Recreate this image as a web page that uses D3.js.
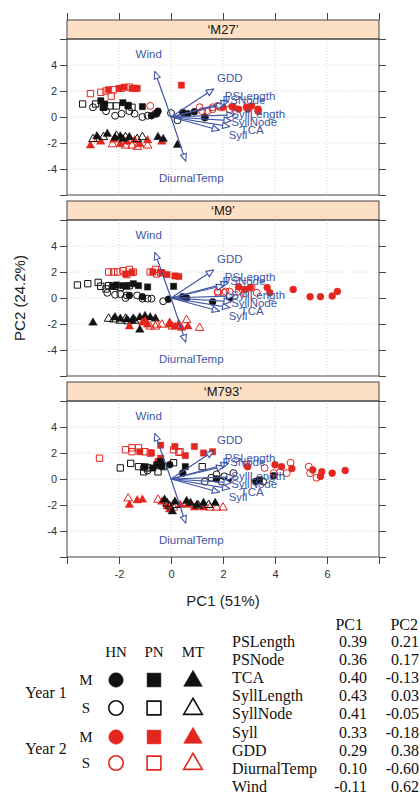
<!DOCTYPE html>
<html lang="en">
<head>
  <meta charset="UTF-8">
  <title>PCA biplot by cultivar</title>
  <script src="https://d3js.org/d3.v7.min.js"></script>
  <style>
    body { margin: 0; background: #fff; }
    svg text { font-family: "Liberation Sans", Arial, sans-serif; }
    .serif { font-family: "Liberation Serif", "Times New Roman", serif !important; }
  </style>
</head>
<body>
<svg id="chart" width="420" height="795"></svg>

<script>
    // ——— data ———
    const panelNames = ["‘M27’", "‘M9’", "‘M793’"];
    const xTicks = [-4, -2, 0, 2, 4, 6, 8];
    const yTicks = [-6, -4, -2, 0, 2, 4, 6];
    const xTickLabels = ["-2", "0", "2", "4", "6"];
    const yTickLabels = ["-4", "-2", "0", "2", "4"];

    const varNames = ["PSLength", "PSNode", "TCA", "SyllLength", "SyllNode", "Syll", "GDD", "DiurnalTemp", "Wind"];
    const pc1Load = [0.39, 0.36, 0.40, 0.43, 0.41, 0.33, 0.29, 0.10, -0.11];
    const pc2Load = [0.21, 0.17, -0.13, 0.03, -0.05, -0.18, 0.38, -0.60, 0.62];

    // [year, form, site, points]
    const m27Points = [
      [2, "S", "PN", [[-3.1,1.8],[-2.7,1.9],[-2.5,2.0],[-2.2,2.1],[-1.9,2.2],[-1.6,2.3],[-1.4,2.2],[-2.3,1.6]]],
      [2, "M", "PN", [[-2.4,2.1],[-2.0,2.2],[-1.8,2.3],[-1.5,2.2],[-1.3,2.2],[0.4,2.45]]],
      [1, "S", "PN", [[-3.4,1.0],[-2.9,1.0],[-2.6,0.75],[-2.35,0.85],[-2.1,0.85],[-1.5,0.75]]],
      [1, "M", "PN", [[-2.7,1.25],[-2.55,1.0],[-1.85,1.1],[-1.65,0.85],[-1.1,0.8],[-2.6,0.75],[-1.65,0.9]]],
      [1, "S", "HN", [[-2.15,0.1],[-1.9,0.25],[-1.4,0.25],[-1.1,0.0],[-0.6,0.25],[-0.9,0.1],[-3.0,0.75],[-2.5,0.45],[0.0,0.3],[0.25,-0.25],[-1.6,0.45]]],
      [1, "M", "HN", [[-0.5,0.45],[-0.75,0.1],[0.45,0.35],[0.65,0.25],[1.3,-0.05],[0.9,0.4],[1.3,0.0],[-0.55,0.25]]],
      [2, "S", "HN", [[-0.8,0.85],[1.6,0.6],[1.9,0.75],[1.1,0.75],[2.25,0.6],[1.4,0.45],[1.6,0.75],[1.2,0.45],[1.8,0.85]]],
      [2, "M", "HN", [[2.35,0.8],[2.6,0.6],[2.95,0.6],[3.35,0.45],[3.1,0.85],[2.0,0.75],[3.35,0.6],[2.9,0.75],[2.4,0.75]]],
      [2, "M", "MT", [[-3.1,-2.2],[-2.7,-1.9],[-2.2,-1.75],[-1.7,-1.9],[-1.4,-1.8],[-0.9,-1.8],[-0.35,-1.9],[-1.2,-2.1],[-1.95,-2.1]]],
      [2, "S", "MT", [[-2.8,-1.7],[-1.75,-2.2],[-1.3,-2.3],[-0.9,-2.2],[-2.25,-2.1],[-1.5,-2.2]]],
      [1, "M", "MT", [[-2.85,-1.5],[-2.45,-1.3],[-1.95,-1.5],[-1.85,-1.7],[-1.6,-1.55],[-0.5,-1.55],[-0.3,-1.7],[0.25,-2.15],[-2.15,-1.6]]],
      [1, "S", "MT", [[-3.0,-1.7],[-2.6,-1.55],[-2.1,-1.45],[-1.75,-1.55],[-1.3,-1.7],[-1.1,-1.55]]]
    ];

    const m9Points = [
      [2, "S", "PN", [[-2.4,2.0],[-2.2,2.0],[-2.05,2.0],[-1.85,2.1],[-1.6,2.2],[-1.45,2.0],[-0.8,2.0],[-0.6,2.2],[-1.7,1.8],[-0.55,1.85],[-0.4,1.95]]],
      [2, "M", "PN", [[-1.75,1.85],[-1.5,1.95],[-0.35,1.95],[-0.15,1.8],[0.15,1.7],[0.3,1.65],[-0.7,2.0]]],
      [1, "S", "PN", [[-3.6,1.0],[-3.2,1.1],[-2.8,1.2],[-2.7,0.9],[-2.4,0.95],[-2.15,0.9],[-2.5,0.7],[-1.95,0.8],[-1.6,0.95]]],
      [1, "M", "PN", [[-2.1,1.0],[-1.7,0.9],[-1.45,1.1],[-1.25,0.95],[-0.9,0.85],[0.1,0.9],[-2.25,0.9],[-1.85,0.95]]],
      [1, "S", "HN", [[-2.15,0.25],[-1.95,0.3],[-1.7,0.2],[-1.1,-0.05],[-0.9,-0.05],[-0.75,-0.05],[-0.3,-0.25],[-2.45,0.4],[-1.3,0.2],[-1.75,0.0]]],
      [1, "M", "HN", [[-1.6,0.2],[-1.1,0.1],[-0.1,-0.1],[0.6,0.0],[1.6,-0.3],[2.25,0.0],[0.45,0.1]]],
      [2, "S", "HN", [[1.8,0.4],[2.05,0.4],[2.25,0.5],[2.6,0.5],[2.85,0.35],[3.3,0.4],[1.8,0.5],[2.1,0.5],[3.1,0.8],[2.75,0.65]]],
      [2, "M", "HN", [[2.6,0.85],[3.05,0.8],[3.7,0.8],[4.7,0.65],[5.35,0.1],[5.75,0.1],[6.2,0.15],[6.4,0.5],[3.8,0.4],[2.85,0.65]]],
      [1, "M", "MT", [[-3.0,-1.9],[-2.15,-1.5],[-1.95,-1.6],[-1.7,-1.65],[-1.45,-1.6],[-1.2,-1.5],[-1.0,-1.4],[-0.8,-1.5],[-0.6,-1.6],[-1.2,-2.45],[-1.5,-1.75]]],
      [1, "S", "MT", [[-2.4,-1.6],[-2.2,-1.65],[-1.95,-1.75],[-1.65,-1.8],[-1.4,-1.75],[-1.75,-1.6]]],
      [2, "M", "MT", [[-1.6,-2.2],[-1.1,-1.9],[-0.9,-2.05],[-0.05,-2.05],[0.15,-2.2],[0.3,-2.0],[-0.05,-1.9],[0.4,-2.3],[0.65,-2.2],[-1.0,-1.8]]],
      [2, "S", "MT", [[-0.8,-2.2],[-0.55,-2.05],[-0.35,-2.05],[0.05,-2.2],[0.6,-1.7],[1.1,-2.3],[-0.6,-2.2]]]
    ];

    const m793Points = [
      [2, "S", "PN", [[-2.75,1.6],[-1.75,2.25],[-1.5,2.1],[-1.25,2.4],[-1.0,2.1],[-0.8,2.0],[0.1,2.25],[0.3,2.05],[-1.5,2.4],[0.35,2.1]]],
      [2, "M", "PN", [[-1.2,2.1],[-0.75,2.0],[-0.4,2.6],[-0.4,1.6],[0.15,2.5],[0.55,1.8],[0.9,2.5],[1.25,2.0],[1.6,2.1],[-0.5,1.35]]],
      [1, "S", "PN", [[-1.95,0.85],[-1.55,1.2],[-1.25,0.95],[-0.9,0.85],[-0.5,0.55],[-0.3,0.95],[0.1,1.25],[1.2,0.95],[-1.05,0.55]]],
      [1, "M", "PN", [[-0.55,1.1],[-0.35,1.0],[-1.0,0.95],[0.55,0.95],[3.4,-0.1],[-0.7,0.85],[-0.4,1.35]]],
      [1, "S", "HN", [[-1.05,0.9],[-0.9,0.65],[1.3,-0.2],[1.55,0.1],[1.75,0.35],[2.05,0.2],[2.4,0.45],[1.95,-0.2],[3.55,-0.2]]],
      [1, "M", "HN", [[0.45,0.45],[1.75,0.0],[2.2,-0.05],[3.25,-0.2],[3.95,0.25],[-0.05,1.1],[-0.4,1.2]]],
      [2, "S", "HN", [[3.6,0.85],[3.95,0.45],[4.2,0.55],[4.6,1.25],[4.45,0.45],[5.3,0.95],[5.35,0.45],[5.6,0.1],[2.9,1.1]]],
      [2, "M", "HN", [[4.0,1.1],[4.25,0.95],[4.65,0.8],[5.45,0.7],[5.8,0.55],[6.2,0.45],[6.7,0.65],[5.75,0.2],[2.95,0.95]]],
      [2, "M", "MT", [[-1.6,-2.0],[-1.3,-1.65],[-1.1,-1.6],[-0.35,-1.75],[-0.15,-2.1],[-0.05,-2.35],[0.35,-2.0],[0.9,-2.2],[1.25,-2.2],[0.65,-2.0]]],
      [2, "S", "MT", [[-1.65,-1.5],[-0.5,-1.6],[-0.15,-1.85],[0.1,-2.2],[1.5,-2.2],[1.75,-2.2],[2.0,-2.2],[0.6,-1.85]]],
      [1, "M", "MT", [[-0.25,-1.6],[0.15,-1.75],[0.6,-1.7],[0.75,-1.85],[1.25,-1.85],[1.7,-1.85],[0.05,-2.5],[1.0,-2.0]]],
      [1, "S", "MT", [[-0.05,-2.1],[0.2,-2.0],[1.05,-2.05],[1.45,-2.0],[-0.15,-1.9]]]
    ];

    const legendSites = ["HN", "PN", "MT"];
    const legendRows = [[1, "M"], [1, "S"], [2, "M"], [2, "S"]];

    // ——— setup ———
    const svg = d3.select("#chart");
    const RED = "#e3261f", BLACK = "#111", BLUE = "#4256a6", AXIS = "#444";
    const shapeOf = { HN: d3.symbolCircle, PN: d3.symbolSquare, MT: d3.symbolTriangle };
    const plotSize = { HN: 38, PN: 40, MT: 32 };
    const legendSize = { HN: 165, PN: 190, MT: 150 };

    const x = d3.scaleLinear().domain([-4, 8]).range([67, 379]);
    const panelTops = [39, 220, 401];
    const panelH = 156, stripH = 19;
    const arrowScale = 5.65, labelScale = 7.8;

    svg.append("defs").append("marker")
      .attr("id", "head")
      .attr("viewBox", "0 0 10 10")
      .attr("refX", 9).attr("refY", 5)
      .attr("markerWidth", 9).attr("markerHeight", 9)
      .attr("markerUnits", "userSpaceOnUse")
      .attr("orient", "auto")
      .append("path")
      .attr("d", "M1,1.5 L9,5 L1,8.5 Z")
      .attr("fill", "#fff")
      .attr("stroke", BLUE)
      .attr("stroke-width", 1.2);

    const allPanels = [m27Points, m9Points, m793Points];

    allPanels.forEach((groups, i) => {
      const top = panelTops[i];
      const y = d3.scaleLinear().domain([-6, 6]).range([top + panelH, top]);
      const g = svg.append("g");

      // strip
      g.append("rect")
        .attr("x", x(-4)).attr("y", top - stripH)
        .attr("width", x(8) - x(-4)).attr("height", stripH)
        .attr("fill", "#fddfc3").attr("stroke", AXIS).attr("stroke-width", 1);
      g.append("text")
        .attr("x", (x(-4) + x(8)) / 2).attr("y", top - stripH / 2)
        .attr("text-anchor", "middle").attr("dominant-baseline", "central")
        .attr("font-size", "13px").attr("fill", "#111")
        .text(panelNames[i]);

      // grid
      g.selectAll(".gx").data(xTicks.slice(1, -1)).join("line")
        .attr("x1", d => x(d)).attr("x2", d => x(d))
        .attr("y1", top).attr("y2", top + panelH)
        .attr("stroke", "#d6d6d6").attr("stroke-dasharray", "1,2");
      g.selectAll(".gy").data(yTicks.slice(1, -1)).join("line")
        .attr("x1", x(-4)).attr("x2", x(8))
        .attr("y1", d => y(d)).attr("y2", d => y(d))
        .attr("stroke", "#d6d6d6").attr("stroke-dasharray", "1,2");

      // border
      g.append("rect")
        .attr("x", x(-4)).attr("y", top)
        .attr("width", x(8) - x(-4)).attr("height", panelH)
        .attr("fill", "none").attr("stroke", AXIS).attr("stroke-width", 1);

      // y ticks both sides
      const ly = g.append("g").attr("transform", `translate(${x(-4)},0)`)
        .call(d3.axisLeft(y).tickValues(yTicks).tickSize(7).tickFormat(d => yTickLabels.includes(String(d)) ? d : ""));
      const ry = g.append("g").attr("transform", `translate(${x(8)},0)`)
        .call(d3.axisRight(y).tickValues(yTicks).tickSize(7).tickFormat(""));
      [ly, ry].forEach(a => {
        a.select(".domain").remove();
        a.selectAll("line").attr("stroke", AXIS);
        a.selectAll("text").attr("font-size", "11px").attr("fill", "#333")
          .attr("font-family", "Liberation Sans, Arial, sans-serif");
      });

      // points
      groups.forEach(([yr, form, site, pts]) => {
        const col = yr === 1 ? BLACK : RED;
        g.selectAll(null).data(pts).join("path")
          .attr("transform", d => `translate(${x(d[0])},${y(d[1])})`)
          .attr("d", d3.symbol(shapeOf[site], plotSize[site]))
          .attr("fill", form === "M" ? col : "none")
          .attr("stroke", col)
          .attr("stroke-width", form === "M" ? 0.4 : 1);
      });

      // loadings arrows
      varNames.forEach((v, k) => {
        g.append("line")
          .attr("x1", x(0)).attr("y1", y(0))
          .attr("x2", x(pc1Load[k] * arrowScale)).attr("y2", y(pc2Load[k] * arrowScale))
          .attr("stroke", BLUE).attr("stroke-width", 1.2)
          .attr("marker-end", "url(#head)");
      });
      varNames.forEach((v, k) => {
        g.append("text")
          .attr("x", x(pc1Load[k] * labelScale)).attr("y", y(pc2Load[k] * labelScale))
          .attr("text-anchor", "middle").attr("dominant-baseline", "central")
          .attr("font-size", "11.5px").attr("fill", BLUE)
          .text(v);
      });
    });

    // top ticks
    const topAxis = svg.append("g").attr("transform", `translate(0,${panelTops[0] - stripH})`)
      .call(d3.axisTop(x).tickValues(xTicks).tickSize(7).tickFormat(""));
    // bottom ticks + labels
    const botAxis = svg.append("g").attr("transform", `translate(0,${panelTops[2] + panelH})`)
      .call(d3.axisBottom(x).tickValues(xTicks).tickSize(7).tickPadding(6)
        .tickFormat(d => xTickLabels.includes(String(d)) ? d : ""));
    [topAxis, botAxis].forEach(a => {
      a.select(".domain").remove();
      a.selectAll("line").attr("stroke", AXIS);
      a.selectAll("text").attr("font-size", "11px").attr("fill", "#333")
        .attr("font-family", "Liberation Sans, Arial, sans-serif");
    });

    // axis titles
    svg.append("text")
      .attr("x", (x(-4) + x(8)) / 2).attr("y", 606)
      .attr("text-anchor", "middle").attr("font-size", "15px").attr("fill", "#222")
      .text("PC1 (51%)");
    svg.append("text")
      .attr("transform", `translate(25,${panelTops[1] + panelH / 2}) rotate(-90)`)
      .attr("text-anchor", "middle").attr("font-size", "15px").attr("fill", "#222")
      .text("PC2 (24.2%)");

    // ——— symbol legend ———
    const leg = svg.append("g").attr("class", "legend");
    const colX = [116, 154, 193];
    const rowY = [680, 708, 737, 763];
    legendSites.forEach((s, j) => {
      leg.append("text").attr("class", "serif")
        .attr("x", colX[j]).attr("y", 657)
        .attr("text-anchor", "middle").attr("font-size", "15px").attr("fill", "#111")
        .text(s);
    });
    leg.append("text").attr("class", "serif")
      .attr("x", 46).attr("y", (rowY[0] + rowY[1]) / 2 + 4)
      .attr("text-anchor", "middle").attr("font-size", "16px").attr("fill", "#111")
      .text("Year 1");
    leg.append("text").attr("class", "serif")
      .attr("x", 46).attr("y", (rowY[2] + rowY[3]) / 2 + 4)
      .attr("text-anchor", "middle").attr("font-size", "16px").attr("fill", "#111")
      .text("Year 2");
    legendRows.forEach(([yr, form], r) => {
      const col = yr === 1 ? BLACK : RED;
      leg.append("text").attr("class", "serif")
        .attr("x", 86).attr("y", rowY[r] + 5)
        .attr("text-anchor", "middle").attr("font-size", "15px").attr("fill", "#111")
        .text(form);
      legendSites.forEach((s, j) => {
        leg.append("path")
          .attr("transform", `translate(${colX[j]},${rowY[r] + (s === "MT" ? 1 : 0)})`)
          .attr("d", d3.symbol(shapeOf[s], legendSize[s]))
          .attr("fill", form === "M" ? col : "#fff")
          .attr("stroke", col)
          .attr("stroke-width", form === "M" ? 0.5 : 1.6);
      });
    });

    // ——— loadings table ———
    const tbl = svg.append("g");
    const rowH = 18.1, row0 = 647;
    tbl.append("text").attr("class", "serif")
      .attr("x", 363).attr("y", 630).attr("text-anchor", "end")
      .attr("font-size", "16px").attr("fill", "#111").text("PC1");
    tbl.append("text").attr("class", "serif")
      .attr("x", 418).attr("y", 630).attr("text-anchor", "end")
      .attr("font-size", "16px").attr("fill", "#111").text("PC2");
    varNames.forEach((v, k) => {
      const yy = row0 + k * rowH;
      tbl.append("text").attr("class", "serif")
        .attr("x", 232).attr("y", yy).attr("font-size", "16px").attr("fill", "#111").text(v);
      tbl.append("text").attr("class", "serif")
        .attr("x", 367).attr("y", yy).attr("text-anchor", "end")
        .attr("font-size", "16px").attr("fill", "#111").text(pc1Load[k].toFixed(2));
      tbl.append("text").attr("class", "serif")
        .attr("x", 419).attr("y", yy).attr("text-anchor", "end")
        .attr("font-size", "16px").attr("fill", "#111").text(pc2Load[k].toFixed(2));
    });
</script>
</body>
</html>
